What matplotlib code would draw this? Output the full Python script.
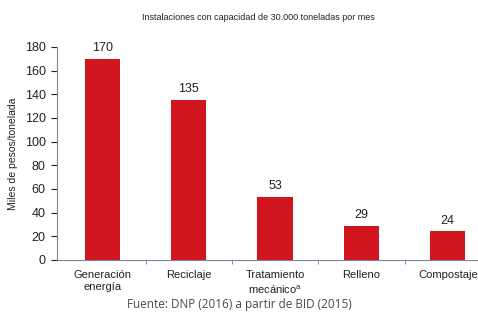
import matplotlib
matplotlib.use("Agg")
import matplotlib.pyplot as plt
import numpy as np

categories = ["Generación\nenergía", "Reciclaje", "Tratamiento\nmecánico$^{a}$", "Relleno", "Compostaje"]
values = [170, 135, 53, 29, 24]
yticks = [0, 20, 40, 60, 80, 100, 120, 140, 160, 180]

plt.rcParams['font.family'] = ['Liberation Sans', 'DejaVu Sans']
plt.rcParams['mathtext.default'] = 'regular'

fig = plt.figure(figsize=(4.78, 3.15), dpi=100)
ax = fig.add_axes([0.119, 0.175, 0.881, 0.676])
x = np.arange(len(categories))
ax.bar(x, values, width=0.41, color="#D0151E", zorder=2)
for xi, v in zip(x, values):
    ax.text(xi, v + 4, str(v), ha="center", va="bottom", fontsize=9, color="#222222")

ax.set_xlim(-0.527, 4.35)
ax.set_ylim(0, 180)
ax.set_yticks(yticks)
ax.tick_params(axis='y', labelsize=9, length=4, colors="#222222", pad=4)
for t in ax.yaxis.get_ticklines():
    t.set_color("#8080a0")
ax.set_xticks(x)
ax.set_xticklabels(categories, fontsize=8, color="#222222", linespacing=1.35)
ax.tick_params(axis='x', length=0, pad=7)
ax.set_xticks(np.arange(0.5, 4.5, 1), minor=True)
ax.tick_params(axis='x', which='minor', length=3, color="#8080a0")
for s in ["top", "right"]:
    ax.spines[s].set_visible(False)
for s in ["left", "bottom"]:
    ax.spines[s].set_color("#8080a0")
ax.set_ylabel("Miles de pesos/tonelada", fontsize=7.5, color="#222222", labelpad=5)

fig.text(0.54, 0.945, "Instalaciones con capacidad de 30.000 toneladas por mes",
         ha="center", va="center", fontsize=6.5, color="#222222")
fig.text(0.5, 0.032, "Fuente: DNP (2016) a partir de BID (2015)",
         ha="center", va="center", fontsize=8.5, color="#4a4a4a", family=["Open Sans", "DejaVu Sans"])

fig.savefig("out.png", dpi=100, facecolor="white")
